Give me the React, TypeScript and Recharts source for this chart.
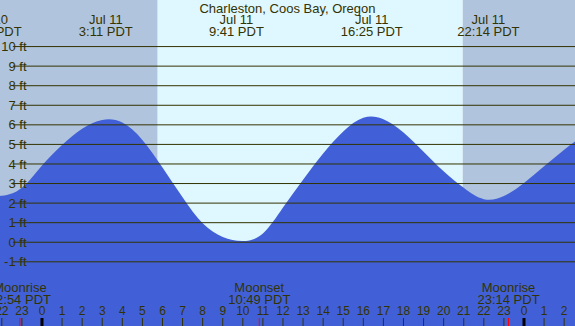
import {
  AreaChart,
  Area,
  XAxis,
  YAxis,
  ReferenceArea,
  ReferenceLine,
} from "recharts";

// hours from Jul 11 00:00 PDT, heights in ft (first and last points lie just off the picture)
const tideTimes = [
  -3, -2, -1, 0, 1, 2, 3, 4, 5, 6, 7, 8, 9, 10, 11, 12, 13, 14, 15, 16, 17, 18,
  19, 20, 21, 22, 23, 24, 25, 26, 27,
];
const tideHeights = [
  2.33, 2.37, 2.78, 3.92, 4.97, 5.8, 6.25, 6.12, 5.23, 3.82, 2.3, 0.97, 0.27,
  0.06, 0.45, 1.77, 3.2, 4.54, 5.66, 6.36, 6.29, 5.61, 4.63, 3.63, 2.78, 2.2,
  2.36, 3.03, 3.88, 4.73, 5.5,
];

const eventTimes = [-2.56, 3.18, 9.68, 16.42, 22.23];
const eventDates = ["Jul 10", "Jul 11", "Jul 11", "Jul 11", "Jul 11"];
const eventClock = ["21:26 PDT", "3:11 PDT", "9:41 PDT", "16:25 PDT", "22:14 PDT"];

const moonTimes = [-1.1, 10.82, 23.23];
const moonKinds = ["Moonrise", "Moonset", "Moonrise"];
const moonClock = ["22:54 PDT", "10:49 PDT", "23:14 PDT"];

const hourTicks = [
  -2, -1, 0, 1, 2, 3, 4, 5, 6, 7, 8, 9, 10, 11, 12, 13, 14, 15, 16, 17, 18, 19,
  20, 21, 22, 23, 24, 25, 26,
];
const hourLabels = [
  "22", "23", "0", "1", "2", "3", "4", "5", "6", "7", "8", "9", "10", "11",
  "12", "13", "14", "15", "16", "17", "18", "19", "20", "21", "22", "23", "0",
  "1", "2",
];

const ftTicks = [-1, 0, 1, 2, 3, 4, 5, 6, 7, 8, 9, 10];

const sunrise = 5.76;
const sunset = 20.95;
const xStart = -2.09;
const xEnd = 26.54;
const gridStart = -1.45; // level lines begin just right of the ft labels
const yMin = -4.28;
const yMax = 12.38;

const data = tideTimes.map((t, i) => ({ t, ft: tideHeights[i] }));

const W = 575;
const H = 326;
const INK = "#333300";
const FONT = '"Liberation Sans", Arial, sans-serif';

function HourTick(props: any) {
  const { x, payload } = props;
  const i = hourTicks.indexOf(payload.value);
  const midnight = hourLabels[i] === "0";
  return (
    <g>
      <line
        x1={x}
        x2={x}
        y1={318}
        y2={H}
        stroke={midnight ? "#000" : INK}
        strokeWidth={midnight ? 3 : 1}
      />
      <text x={x} y={315} textAnchor="middle" fontSize={12} fill={INK} fontFamily={FONT}>
        {hourLabels[i]}
      </text>
    </g>
  );
}

function MoonTick(props: any) {
  const { x, payload } = props;
  const i = moonTimes.indexOf(payload.value);
  return (
    <g>
      <line x1={x} x2={x} y1={318} y2={H} stroke="#ff0000" strokeWidth={1} />
      <text x={x} y={292} textAnchor="middle" fontSize={13} fill={INK} fontFamily={FONT}>
        {moonKinds[i]}
      </text>
      <text x={x} y={304} textAnchor="middle" fontSize={13} fill={INK} fontFamily={FONT}>
        {moonClock[i]}
      </text>
    </g>
  );
}

function EventTick(props: any) {
  const { x, payload } = props;
  const i = eventTimes.indexOf(payload.value);
  return (
    <g>
      <text x={x} y={24} textAnchor="middle" fontSize={13} fill={INK} fontFamily={FONT}>
        {eventDates[i]}
      </text>
      <text x={x} y={36} textAnchor="middle" fontSize={13} fill={INK} fontFamily={FONT}>
        {eventClock[i]}
      </text>
    </g>
  );
}

function FtTick(props: any) {
  const { y, payload } = props;
  return (
    <text
      x={26.5}
      y={y}
      dy={4.6}
      textAnchor="end"
      fontSize={13}
      fill={INK}
      fontFamily={FONT}
    >
      {`${payload.value} ft`}
    </text>
  );
}

export default function App() {
  return (
    <div style={{ position: "absolute", left: 0, top: 0, width: W, height: H, overflow: "hidden" }}>
      <AreaChart
        width={W}
        height={H}
        data={data}
        margin={{ top: -1, right: 0, bottom: -2, left: -1 }}
        style={{ overflow: "visible" }}
      >
        <XAxis
          dataKey="t"
          type="number"
          domain={[xStart, xEnd]}
          allowDataOverflow
          ticks={hourTicks}
          interval={0}
          height={1}
          axisLine={false}
          tickLine={false}
          tick={(p: any) => <HourTick {...p} />}
        />
        <XAxis
          xAxisId="moon"
          dataKey="t"
          type="number"
          domain={[xStart, xEnd]}
          allowDataOverflow
          ticks={moonTimes}
          interval={0}
          height={1}
          axisLine={false}
          tickLine={false}
          tick={(p: any) => <MoonTick {...p} />}
        />
        <XAxis
          xAxisId="events"
          orientation="top"
          dataKey="t"
          type="number"
          domain={[xStart, xEnd]}
          allowDataOverflow
          ticks={eventTimes}
          interval={0}
          height={1}
          axisLine={false}
          tickLine={false}
          tick={(p: any) => <EventTick {...p} />}
        />
        <YAxis
          type="number"
          domain={[yMin, yMax]}
          allowDataOverflow
          ticks={ftTicks}
          interval={0}
          width={1}
          axisLine={false}
          tickLine={false}
          tick={(p: any) => <FtTick {...p} />}
        />
        <ReferenceArea x1={xStart} x2={sunrise} fill="#b0c4de" fillOpacity={1} stroke="none" zIndex={-200} ifOverflow="visible" />
        <ReferenceArea x1={sunrise} x2={sunset} fill="#dff7ff" fillOpacity={1} stroke="none" zIndex={-200} ifOverflow="visible" />
        <ReferenceArea x1={sunset} x2={xEnd} fill="#b0c4de" fillOpacity={1} stroke="none" zIndex={-200} ifOverflow="visible" />
        <Area
          type="natural"
          dataKey="ft"
          baseValue="dataMin"
          fill="#4160d8"
          fillOpacity={1}
          stroke="none"
          dot={false}
          activeDot={false}
          isAnimationActive={false}
        />
        {ftTicks.map((v) => (
          <ReferenceLine
            key={v}
            segment={[
              { x: gridStart, y: v },
              { x: xEnd, y: v },
            ]}
            stroke={INK}
            strokeWidth={1}
            zIndex={300}
          />
        ))}
        <text x={W / 2} y={12.5} textAnchor="middle" fontSize={13} fill={INK} fontFamily={FONT}>
          Charleston, Coos Bay, Oregon
        </text>
      </AreaChart>
    </div>
  );
}
